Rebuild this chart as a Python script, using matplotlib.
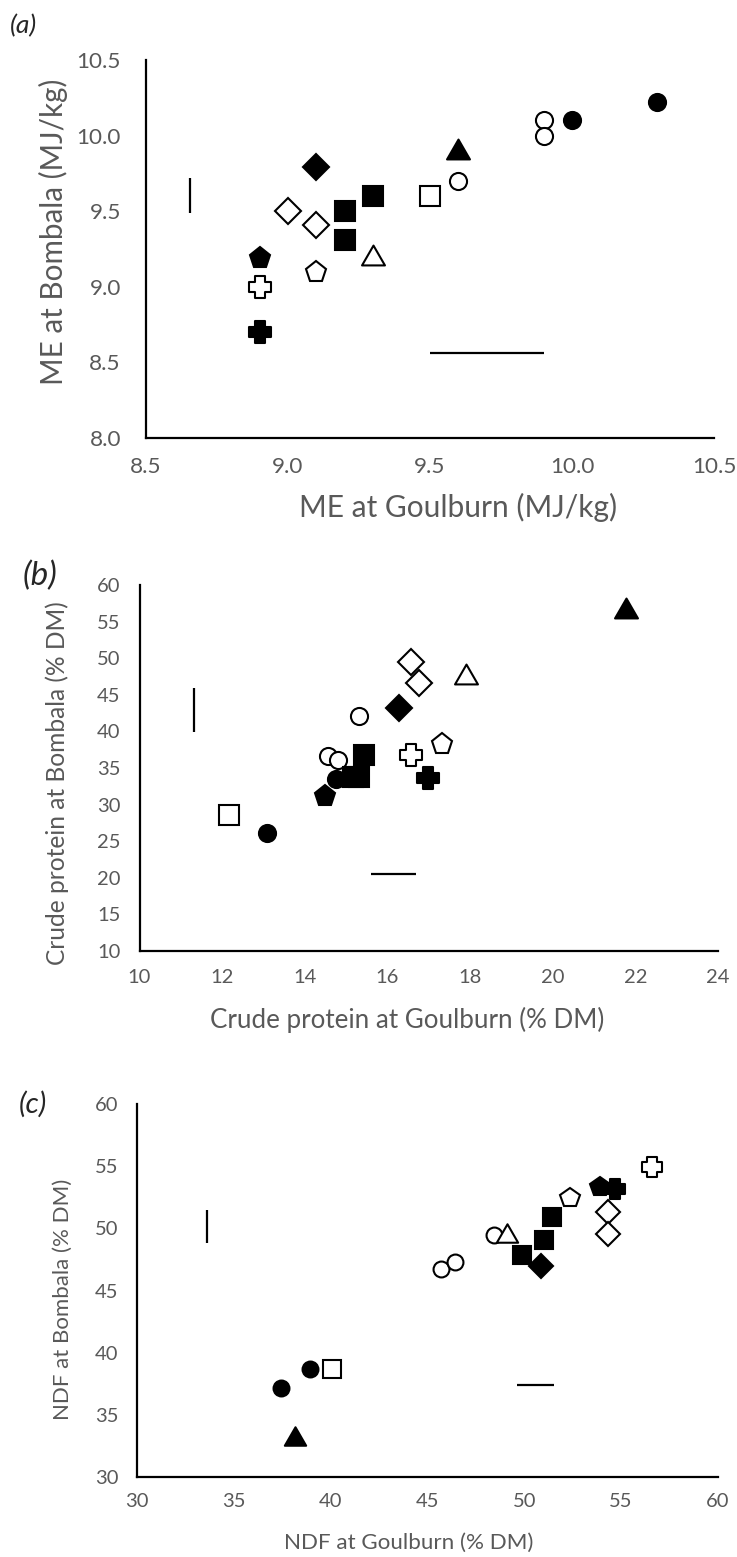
import matplotlib
matplotlib.use("Agg")
import matplotlib.pyplot as plt
import numpy as np
from matplotlib.font_manager import FontProperties
from matplotlib.textpath import TextPath
from matplotlib.path import Path

# ---------------- data ----------------
symbols = ['fc', 'fc', 'oc', 'oc', 'oc', 'ft', 'ot', 'fd', 'od', 'od',
           'fs', 'fs', 'fs', 'os', 'fp', 'op', 'fx', 'ox']

# (a) metabolisable energy
me_goulburn = [10.3, 10.0, 9.9, 9.9, 9.6, 9.6, 9.3, 9.1, 9.0, 9.1,
               9.3, 9.2, 9.2, 9.5, 8.9, 9.1, 8.9, 8.9]
me_bombala = [10.22, 10.1, 10.1, 10.0, 9.7, 9.91, 9.21, 9.79, 9.5, 9.41,
              9.6, 9.5, 9.31, 9.6, 9.19, 9.1, 8.7, 9.0]
me_lsd_x = [8.654, 8.654]          # vertical LSD bar
me_lsd_y = [9.49, 9.72]
me_lsd_hx = [9.50, 9.90]           # horizontal LSD bar
me_lsd_hy = [8.56, 8.56]

# (b) crude protein
cp_goulburn = [14.75, 13.08, 15.31, 14.56, 14.80, 21.77, 17.91, 16.29, 16.58, 16.77,
               15.43, 15.17, 15.31, 12.16, 14.49, 17.33, 16.97, 16.58]
cp_bombala = [33.5, 26.1, 42.1, 36.7, 36.1, 56.9, 47.8, 43.2, 49.5, 46.6,
              36.8, 33.8, 33.8, 28.6, 31.2, 38.3, 33.7, 36.8]
cp_lsd_x = [11.31, 11.31]
cp_lsd_y = [39.9, 45.9]
cp_lsd_hx = [15.6, 16.7]
cp_lsd_hy = [20.5, 20.5]

# (c) NDF
ndf_goulburn = [37.45, 38.97, 48.46, 45.72, 46.44, 38.17, 49.10, 50.87, 54.30, 54.30,
                51.42, 51.0, 49.89, 40.07, 53.90, 52.36, 54.69, 56.58]
ndf_bombala = [37.16, 38.71, 49.49, 46.73, 47.27, 33.3, 49.62, 46.94, 51.31, 49.54,
               50.9, 49.09, 47.88, 38.71, 53.3, 52.44, 53.16, 54.9]
ndf_lsd_x = [33.66, 33.66]
ndf_lsd_y = [48.82, 51.45]
ndf_lsd_hx = [49.61, 51.55]
ndf_lsd_hy = [37.37, 37.37]

a_xticks = [8.5, 9.0, 9.5, 10.0, 10.5]
a_yticks = [8.0, 8.5, 9.0, 9.5, 10.0, 10.5]
b_xticks = [10, 12, 14, 16, 18, 20, 22, 24]
b_yticks = [10, 15, 20, 25, 30, 35, 40, 45, 50, 55, 60]
c_xticks = [30, 35, 40, 45, 50, 55, 60]
c_yticks = [30, 35, 40, 45, 50, 55, 60]

# ---------------- styling ----------------
W, H, DPI = 737, 1557, 100
FONT = 'Lato'
TXT = '#595959'
fp = FontProperties(family=FONT)
fpi = FontProperties(family=FONT, style='italic')


def fit_size(s, target_px, prop=fp):
    w = TextPath((0, 0), s, size=100, prop=prop).get_extents().width
    return target_px * 100 * 72 / (w * DPI)


a = 0.22
plus_path = Path([(-a, 0.5), (a, 0.5), (a, a), (0.5, a), (0.5, -a), (a, -a), (a, -0.5),
                  (-a, -0.5), (-a, -a), (-0.5, -a), (-0.5, a), (-a, a), (-a, 0.5)], closed=True)
tri_path = Path([(0, 0.433), (-0.5, -0.433), (0.5, -0.433), (0, 0.433)], closed=True)

MK = {'c': ('o', 12.3), 't': (tri_path, 16.5), 'd': ('D', 13.0), 's': ('s', 14.3),
      'p': ('p', 15.5), 'x': (plus_path, 16.0)}

fig = plt.figure(figsize=(W / DPI, H / DPI), dpi=DPI)


def px_axes(l, r, t, b):
    return fig.add_axes([l / W, 1 - b / H, (r - l) / W, (b - t) / H])


def draw_panel(ax, xs, ys, lx, ly, hx, hy, xlim, ylim, xt, yt, fmt, scale, tsize, xpad, ypad):
    for x, y, s in zip(xs, ys, symbols):
        m, ms = MK[s[1]]
        fc = 'black' if s[0] == 'f' else 'white'
        ax.plot([x], [y], linestyle='none', marker=m, markersize=ms * scale,
                markerfacecolor=fc, markeredgecolor='black', markeredgewidth=1.5, zorder=3)
    ax.plot(lx, ly, color='black', lw=1.6, solid_capstyle='butt', zorder=2)
    ax.plot(hx, hy, color='black', lw=1.6, solid_capstyle='butt', zorder=2)
    ax.set_xlim(*xlim)
    ax.set_ylim(*ylim)
    ax.set_xticks(xt)
    ax.set_yticks(yt)
    ax.set_xticklabels([fmt.format(v) for v in xt])
    ax.set_yticklabels([fmt.format(v) for v in yt])
    for sp in ['top', 'right']:
        ax.spines[sp].set_visible(False)
    for sp in ['left', 'bottom']:
        ax.spines[sp].set_linewidth(1.6)
        ax.spines[sp].set_color('black')
    ax.tick_params(axis='x', length=0, pad=xpad, labelsize=tsize, labelcolor=TXT)
    ax.tick_params(axis='y', length=0, pad=ypad, labelsize=tsize, labelcolor=TXT)
    for lab in ax.get_xticklabels() + ax.get_yticklabels():
        lab.set_fontfamily(FONT)
    ax.patch.set_alpha(0)


def ftext(x, y, s, target, rot=0, prop=fp, color=TXT):
    size = fit_size(s, target, prop)
    fig.text(x / W, 1 - y / H, s, fontsize=size, rotation=rot, ha='center', va='center',
             color=color, family=prop.get_family(), style=prop.get_style())


# panel (a)
axa = px_axes(146, 714, 60, 438)
draw_panel(axa, me_goulburn, me_bombala, me_lsd_x, me_lsd_y, me_lsd_hx, me_lsd_hy,
           (8.5, 10.5), (8.0, 10.5), a_xticks, a_yticks, '{:.1f}', 1.0,
           fit_size('10.5', 41), 14, 18)
ftext(458, 507, 'ME at Goulburn (MJ/kg)', 314)
ftext(53, 232, 'ME at Bombala (MJ/kg)', 302, rot=90)
ftext(24, 26, '(a)', 25, prop=fpi, color='#262626')

# panel (b)
axb = px_axes(139.5, 718, 585, 951)
draw_panel(axb, cp_goulburn, cp_bombala, cp_lsd_x, cp_lsd_y, cp_lsd_hx, cp_lsd_hy,
           (10, 24), (10, 60), b_xticks, b_yticks, '{:d}', 1.0,
           fit_size('60', 21.7), 13, 13.5)
ftext(407, 1020, 'Crude protein at Goulburn (% DM)', 391)
ftext(57, 783, 'Crude protein at Bombala (% DM)', 362, rot=90)
ftext(40, 576, '(b)', 32, prop=fpi, color='#262626')

# panel (c)
axc = px_axes(136.5, 718, 1104, 1477)
draw_panel(axc, ndf_goulburn, ndf_bombala, ndf_lsd_x, ndf_lsd_y, ndf_lsd_hx, ndf_lsd_hy,
           (30, 60), (30, 60), c_xticks, c_yticks, '{:d}', 0.93,
           fit_size('60', 21.7), 11.5, 13)
ftext(409, 1543, 'NDF at Goulburn (% DM)', 246)
ftext(63, 1299, 'NDF at Bombala (% DM)', 238, rot=90)
ftext(33, 1104, '(c)', 26, prop=fpi, color='#262626')

fig.savefig('out.png', dpi=DPI)
